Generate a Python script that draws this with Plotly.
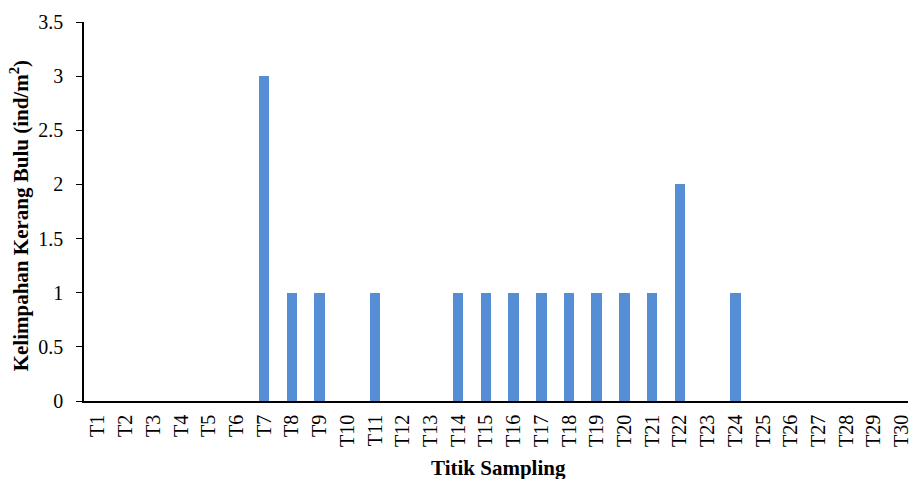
import plotly.graph_objects as go

categories = [f"T{i}" for i in range(1, 31)]
values = [0, 0, 0, 0, 0, 0, 3, 1, 1, 0, 1, 0, 0, 1, 1, 1, 1, 1, 1, 1, 1, 2, 0, 1, 0, 0, 0, 0, 0, 0]
y_ticks = [0, 0.5, 1, 1.5, 2, 2.5, 3, 3.5]
y_tick_labels = ["0", "0.5", "1", "1.5", "2", "2.5", "3", "3.5"]

W, H = 912, 479
ml, mr, mt, mb = 84, 0, 22, 78

fig = go.Figure(go.Bar(
    x=list(range(len(categories))), y=values,
    marker=dict(color="#558ED5", line=dict(width=0)),
    width=0.38,
))

font = "Liberation Serif"
fig.update_layout(
    width=W, height=H,
    margin=dict(l=ml, r=mr, t=mt, b=mb),
    plot_bgcolor="white", paper_bgcolor="white",
    font=dict(family=font, size=20, color="black"),
    showlegend=False,
    bargap=0,
)
fig.update_xaxes(
    range=[-0.5, 29.23],
    tickmode="array", tickvals=list(range(len(categories))), ticktext=categories,
    tickangle=-90, showgrid=False, zeroline=False,
    showline=True, linecolor="black", linewidth=1.5,
    ticks="", tickfont=dict(size=20, family=font, color="black"),
    ticklabeloverflow="allow", ticklabelstandoff=4,
)
fig.update_yaxes(
    range=[0, 3.5], tickmode="array", tickvals=y_ticks, ticktext=y_tick_labels,
    showgrid=False, zeroline=False,
    showline=True, linecolor="black", linewidth=1.5,
    ticks="outside", ticklen=6, tickcolor="black", tickwidth=1,
    tickfont=dict(size=20, family=font, color="black"),
    ticklabelstandoff=9,
)
pw = W - ml - mr
ph = H - mt - mb
fig.add_annotation(
    x=(19 - ml) / pw, y=((H - mb) - 216) / ph, xref="paper", yref="paper",
    text="<b>Kelimpahan Kerang Bulu (ind/m<sup>2</sup>)</b>",
    showarrow=False, textangle=-90, font=dict(size=21, family=font, color="black"),
    xanchor="center", yanchor="middle",
)
fig.add_annotation(
    x=(501 - ml) / pw, y=((H - mb) - 468) / ph, xref="paper", yref="paper",
    text="<b>Titik Sampling</b>", showarrow=False,
    font=dict(size=21, family=font, color="black"), xanchor="center", yanchor="middle",
)
fig.write_html("out.html")
